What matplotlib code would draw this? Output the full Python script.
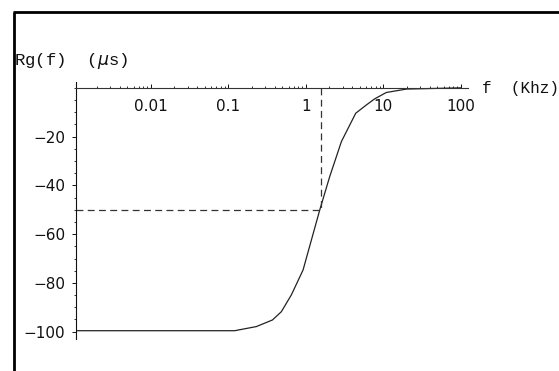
import matplotlib
matplotlib.use("Agg")
import matplotlib.pyplot as plt
from matplotlib.lines import Line2D
from matplotlib.ticker import FixedLocator, LogLocator, NullFormatter, MultipleLocator

# Data (f in kHz, group delay in microseconds)
freq_khz = [0.001, 0.121, 0.231, 0.372, 0.485, 0.653, 0.924, 1.52, 2.04,
            2.89, 4.42, 6.07, 7.77, 10.97, 19.9, 100]
rg_us = [-99.6, -99.6, -97.9, -95.2, -91.8, -84.9, -74.7, -50.0, -36.4,
         -22.0, -10.4, -7.0, -4.5, -1.9, -0.5, 0.0]
half_f = 1.59
half_rg = -50
x_ticks = [0.01, 0.1, 1, 10, 100]
x_tick_labels = ["0.01", "0.1", "1", "10", "100"]
y_ticks = [-20, -40, -60, -80, -100]
y_tick_labels = ["\u221220", "\u221240", "\u221260", "\u221280", "\u2212100"]

W, H = 559, 371
fig = plt.figure(figsize=(W / 100, H / 100), dpi=100)

ax = fig.add_axes([76 / W, 1 - 339 / H, (468 - 76) / W, (339 - 82) / H])
ax.set_xscale("log")
xmin, xmax = 10 ** -2.964, 10 ** 2.094
ax.set_xlim(xmin, xmax)
ax.set_ylim(-103.0, 2.4)

ax.plot(freq_khz, rg_us, color="#222222", lw=0.9, clip_on=True)
ax.plot([xmin, half_f], [half_rg, half_rg], color="#333333", lw=0.9,
        dashes=(5.5, 3.5))
ax.plot([half_f, half_f], [0, half_rg], color="#333333", lw=0.9,
        dashes=(5.5, 3.5))

for s in ["top", "right"]:
    ax.spines[s].set_visible(False)
ax.spines["bottom"].set_position(("data", 0))
ax.spines["bottom"].set_linewidth(0.8)
ax.spines["left"].set_linewidth(0.8)
ax.spines["bottom"].set_color("#333333")
ax.spines["left"].set_color("#111111")

ax.xaxis.set_major_locator(FixedLocator(x_ticks))
ax.set_xticklabels(x_tick_labels, fontsize=11, family="DejaVu Sans")
ax.xaxis.set_minor_locator(LogLocator(base=10, subs=range(2, 10), numticks=20))
ax.xaxis.set_minor_formatter(NullFormatter())
ax.tick_params(axis="x", which="major", direction="in", length=3.2, width=0.7,
               pad=8, colors="#111111")
ax.tick_params(axis="x", which="minor", direction="in", length=1.8, width=0.6,
               colors="#111111")

ax.yaxis.set_major_locator(FixedLocator(y_ticks))
ax.set_yticklabels(y_tick_labels, fontsize=11, family="DejaVu Sans")
ax.yaxis.set_minor_locator(MultipleLocator(5))
ax.tick_params(axis="y", which="major", direction="out", length=3.2, width=0.7,
               pad=4.5, colors="#111111")
ax.tick_params(axis="y", which="minor", direction="out", length=1.8, width=0.6,
               colors="#111111")

fig.text(14 / W, 1 - 65 / H, "Rg(f)  ($\\mu$s)", fontsize=12.5, family="Liberation Mono",
         va="baseline", ha="left", color="#111111")
fig.text(482 / W, 1 - 93 / H, "f  (Khz)", fontsize=11.5, family="Liberation Mono",
         va="baseline", ha="left", color="#111111")

# frame lines of the screenshot
fig.add_artist(Line2D([12.5 / W, 1.0], [1 - 12 / H, 1 - 12 / H], color="black", lw=2.0,
                      solid_capstyle="butt", transform=fig.transFigure))
fig.add_artist(Line2D([13.5 / W, 13.5 / W], [1 - 12 / H, 0.0], color="black", lw=2.0,
                      solid_capstyle="butt", transform=fig.transFigure))

fig.savefig("out.png", dpi=100)
